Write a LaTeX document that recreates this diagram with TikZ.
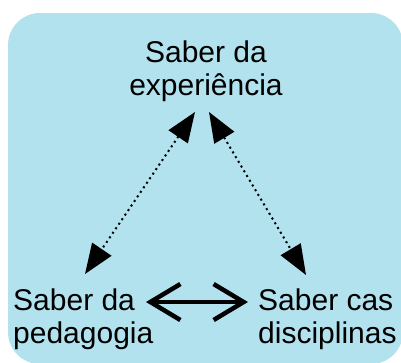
\documentclass[tikz,border=0pt]{standalone}
\usepackage{fontspec}
\setmainfont{Liberation Sans}
\usetikzlibrary{arrows.meta}
\definecolor{bgblue}{RGB}{178,226,238}
\begin{document}
\begin{tikzpicture}[x=1pt,y=-1pt,
  lbl/.style={inner sep=0pt,font=\fontsize{30}{33}\selectfont},
  dotarrow/.style={line width=2pt,dash pattern=on 2pt off 3.5pt,
    {Triangle[length=30pt,width=23pt]}-{Triangle[length=30pt,width=23pt]}},
  bararrow/.style={line width=4.5pt,
    {Straight Barb[length=30pt,width=36pt]}-{Straight Barb[length=30pt,width=36pt]}}]
\useasboundingbox (0,0) rectangle (401,362);
\begin{scope}
\clip (0,0) rectangle (401,362);
\fill[bgblue,rounded corners=32pt] (8,13) rectangle (403,364);
\end{scope}
\node[lbl,anchor=base,align=center] (top) at (206,95) {Saber da\\experiência};
\node[lbl,anchor=base west,align=left] (left) at (13,343) {Saber da\\pedagogia};
\node[lbl,anchor=base west,align=left] (right) at (258,343) {Saber cas\\disciplinas};
\coordinate (tl) at (195,112);
\coordinate (bl) at (85,274);
\coordinate (tr) at (209,112);
\coordinate (br) at (306,275);
\coordinate (hl) at (146,302);
\coordinate (hr) at (248,302);
\draw[dotarrow] (tl) -- (bl);
\draw[dotarrow] (tr) -- (br);
\draw[bararrow] (hl) -- (hr);
\end{tikzpicture}
\end{document}
